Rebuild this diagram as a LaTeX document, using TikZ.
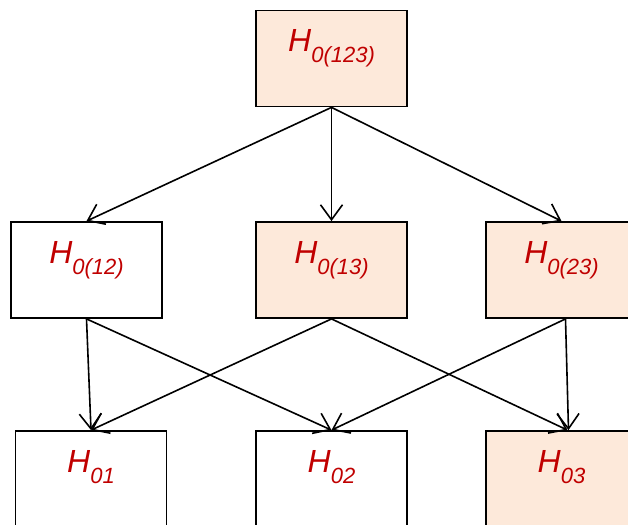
\documentclass[tikz,border=0pt]{standalone}
\usepackage{fontspec}
\setmainfont{Liberation Sans}
\usetikzlibrary{arrows.meta}
\definecolor{peach}{RGB}{253,233,218}
\definecolor{labred}{RGB}{192,0,0}
\newcommand{\hlab}[1]{\fontsize{32}{32}\selectfont\textit{H}\raisebox{-11pt}{\fontsize{22}{22}\selectfont\textit{#1}}}
\begin{document}
\begin{tikzpicture}[x=1pt,y=-1pt,
	box/.style={draw,line width=1.8pt,minimum width=151pt,minimum height=96pt,inner sep=0pt,
		text height=24pt,text depth=37pt,text=labred},
	hot/.style={box,fill=peach},
	arr/.style={line width=1.6pt,-{Straight Barb[length=15pt,width=22pt,line width=1.6pt]}}]
	\useasboundingbox (0,0) rectangle (628,524);
	\clip (0,0) rectangle (628,524);
	\node[hot] (h123) at (331.5,58.5) {\hlab{0(123)}};
	\node[box] (h12) at (86.5,270) {\hlab{0(12)}};
	\node[hot] (h13) at (331.5,270) {\hlab{0(13)}};
	\node[hot] (h23) at (561.5,270) {\hlab{0(23)}};
	\node[box] (h1) at (91,479) {\hlab{01}};
	\node[box] (h2) at (331.5,479) {\hlab{02}};
	\node[hot] (h3) at (561.5,479) {\hlab{03}};
	\draw[arr] (h123.south) -- (h12.north);
	\draw[arr] (h123.south) -- (h13.north);
	\draw[arr] (h123.south) -- (h23.north);
	\draw[arr] (h12.south) -- (h1.north);
	\draw[arr] (h12.south) -- (h2.north);
	\draw[arr] (h13.south) -- (h1.north);
	\draw[arr] (h13.south) -- ([xshift=6pt]h3.north);
	\draw[arr] ([xshift=4pt]h23.south) -- (h2.north);
	\draw[arr] ([xshift=4pt]h23.south) -- ([xshift=7pt]h3.north);
\end{tikzpicture}
\end{document}
